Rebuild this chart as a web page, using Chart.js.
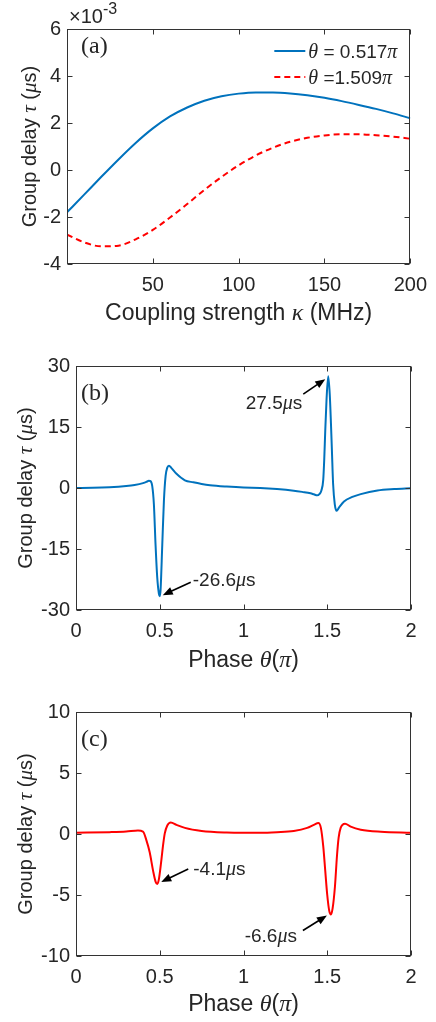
<!DOCTYPE html>
<html><head><meta charset="utf-8">
<script src="https://cdn.jsdelivr.net/npm/chart.js@4.4.1/dist/chart.umd.min.js"></script>
<style>
html,body{margin:0;padding:0;background:#fff;width:436px;height:1022px;overflow:hidden}
.p{position:absolute;left:0;width:436px}
canvas{display:block}
</style></head><body>
<div class="p" style="top:0;height:340px"><canvas id="ca" width="436" height="340"></canvas></div>
<div class="p" style="top:340px;height:340px"><canvas id="cb" width="436" height="340"></canvas></div>
<div class="p" style="top:680px;height:342px"><canvas id="cc" width="436" height="342"></canvas></div>
<script>
// ---------------- DATA ----------------
// Panel (a): group delay (in units of 1e-3 microseconds) vs coupling strength kappa (MHz)
const kappaA = [0,10,20,30,40,50,60,70,80,90,100,110,120,130,140,150,160,170,180,190,200];
const tauA_theta0517 = [-1.8,-1.05,-0.29,0.45,1.15,1.77,2.28,2.66,2.95,3.14,3.25,3.3,3.3,3.26,3.18,3.07,2.93,2.77,2.6,2.41,2.2];
const tauA_theta1509 = [-2.75,-3.08,-3.25,-3.22,-2.95,-2.55,-2.02,-1.45,-0.85,-0.3,0.2,0.62,0.95,1.2,1.37,1.47,1.52,1.52,1.48,1.42,1.33];
const legendA = ["0.517", "1.509"];
const xTicksA = [50,100,150,200];
const yTicksA = [-4,-2,0,2,4,6];

// Panel (b): group delay (microseconds) vs phase theta (units of pi)
const phaseB = [0,0.1,0.2,0.3,0.35,0.4,0.42,0.435,0.445,0.455,0.465,0.475,0.485,0.495,0.5,0.505,0.515,0.525,0.535,0.545,0.555,0.57,0.6,0.65,0.7,0.75,0.8,0.9,1.0,1.1,1.2,1.3,1.35,1.4,1.42,1.44,1.453,1.465,1.476,1.482,1.488,1.496,1.506,1.515,1.522,1.528,1.535,1.545,1.556,1.57,1.6,1.65,1.7,1.8,1.9,2.0];
const tauB   = [0,0.05,0.2,0.5,0.75,1.2,1.5,1.8,1.7,0.5,-4,-14,-22,-26,-26.6,-25,-14,-3,3,5,5.5,4.9,3.5,1.9,1.4,1.0,0.7,0.35,0.1,0,-0.25,-0.65,-0.95,-1.3,-1.55,-1.8,-1.5,-0.6,2,7,14,22,27.5,23,16,9,1,-4,-5.6,-4.8,-3.3,-2.2,-1.5,-0.6,-0.25,-0.05];
const annPhaseB = [1.506, 0.5];
const annTauB   = [27.5, -26.6];

// Panel (c): group delay (microseconds) vs phase theta (units of pi)
const phaseC = [0,0.2,0.3,0.37,0.4,0.42,0.44,0.46,0.475,0.485,0.495,0.51,0.52,0.53,0.545,0.566,0.6,0.65,0.75,0.9,1.0,1.1,1.2,1.3,1.38,1.42,1.447,1.462,1.476,1.488,1.5,1.512,1.522,1.532,1.546,1.558,1.568,1.58,1.606,1.64,1.7,1.82,2.0];
const tauC   = [0.1,0.15,0.2,0.28,0.2,-0.5,-1.5,-3.0,-3.9,-4.1,-3.7,-2.1,-0.9,0.05,0.7,0.95,0.75,0.5,0.25,0.12,0.1,0.1,0.15,0.25,0.5,0.75,0.9,0.5,-1.0,-3,-5,-6.3,-6.6,-6.1,-4.3,-1.8,-0.3,0.5,0.85,0.6,0.35,0.18,0.1];
const annPhaseC = [0.485, 1.522];
const annTauC   = [-4.1, -6.6];

const xTicksBC = [0,0.5,1,1.5,2];
const yTicksB = [-30,-15,0,15,30];
const yTicksC = [-10,-5,0,5,10];

// ---------------- STYLE / HELPERS ----------------
const SANS = "'Liberation Sans', Arial, Helvetica, sans-serif";
const SERIF = "'Liberation Serif', 'Times New Roman', serif";
const TXT = '#262626';
const BLUE = '#0072BD';
const RED = '#FF0000';
const sans = s => `${s}px ${SANS}`;
const ital = s => `italic ${s}px ${SERIF}`;
const serif = s => `${s}px ${SERIF}`;

function rich(ctx, segs, x, y, align, angle){
  ctx.save();
  ctx.translate(x, y);
  if (angle) ctx.rotate(angle);
  ctx.textBaseline = 'alphabetic';
  ctx.textAlign = 'left';
  ctx.fillStyle = TXT;
  let w = 0;
  segs.forEach(s => { ctx.font = s.f; s.w = ctx.measureText(s.t).width; w += s.w; });
  let cx = align === 'center' ? -w/2 : (align === 'right' ? -w : 0);
  segs.forEach(s => { ctx.font = s.f; ctx.fillText(s.t, cx, s.dy || 0); cx += s.w; });
  ctx.restore();
}

function arrow(ctx, x0, y0, x1, y1){
  const a = Math.atan2(y1 - y0, x1 - x0), L = 10, W = 4;
  ctx.save();
  ctx.strokeStyle = '#000'; ctx.fillStyle = '#000'; ctx.lineWidth = 1.6;
  ctx.beginPath(); ctx.moveTo(x0, y0); ctx.lineTo(x1 - (L-2)*Math.cos(a), y1 - (L-2)*Math.sin(a)); ctx.stroke();
  ctx.beginPath(); ctx.moveTo(x1, y1);
  ctx.lineTo(x1 - L*Math.cos(a) + W*Math.sin(a), y1 - L*Math.sin(a) - W*Math.cos(a));
  ctx.lineTo(x1 - L*Math.cos(a) - W*Math.sin(a), y1 - L*Math.sin(a) + W*Math.cos(a));
  ctx.closePath(); ctx.fill();
  ctx.restore();
}

const yTitle = sz => [
  {t:'Group delay ', f:sans(sz)}, {t:'\u03C4', f:ital(sz+1)}, {t:' (', f:sans(sz)},
  {t:'\u03BC', f:ital(sz+1)}, {t:'s)', f:sans(sz)}
];
const phaseTitle = sz => [
  {t:'Phase ', f:sans(sz)}, {t:'\u03B8', f:ital(sz+1)}, {t:'(', f:sans(sz)},
  {t:'\u03C0', f:ital(sz+1)}, {t:')', f:sans(sz)}
];

// frame plugin: box + inward ticks on all four sides + decorations
const framePlugin = {
  id: 'frame',
  afterDatasetsDraw(chart, args, opts){
    const ctx = chart.ctx;
    const {left, right, top, bottom} = chart.chartArea;
    const x = chart.scales.x, y = chart.scales.y;
    ctx.save();
    ctx.strokeStyle = '#333'; ctx.lineWidth = 1;
    const L = Math.round(left) + 0.5, R = Math.round(right) - 0.5, T = Math.round(top) + 0.5, B = Math.round(bottom) - 0.5;
    ctx.strokeRect(L, T, R - L, B - T);
    ctx.beginPath();
    x.ticks.forEach(t => {
      const px = Math.round(x.getPixelForValue(t.value)) + 0.5;
      ctx.moveTo(px, B); ctx.lineTo(px, B - 5);
      ctx.moveTo(px, T); ctx.lineTo(px, T + 5);
    });
    y.ticks.forEach(t => {
      const py = Math.round(y.getPixelForValue(t.value)) + 0.5;
      ctx.moveTo(L, py); ctx.lineTo(L + 5, py);
      ctx.moveTo(R, py); ctx.lineTo(R - 5, py);
    });
    ctx.stroke();
    ctx.restore();
    if (opts.draw) opts.draw(chart, ctx);
  }
};

function makeChart(id, cfg){
  return new Chart(document.getElementById(id), {
    type: 'line',
    data: { datasets: cfg.datasets },
    options: {
      responsive: false, animation: false, events: [],
      layout: { padding: { top: cfg.padTop, right: cfg.padRight, left: 0, bottom: 0 } },
      elements: { point: { radius: 0 }, line: { borderWidth: 2, cubicInterpolationMode: 'monotone' } },
      plugins: { legend: { display: false }, tooltip: { enabled: false }, frame: { draw: cfg.draw } },
      scales: {
        x: {
          type: 'linear', min: cfg.xMin, max: cfg.xMax,
          grid: { display: false, drawTicks: false }, border: { display: false },
          afterBuildTicks: s => { s.ticks = cfg.xTicks.map(v => ({ value: v })); },
          afterFit: s => { s.height = cfg.xH; },
          ticks: { font: { family: SANS, size: 20 }, color: TXT, padding: 9, maxRotation: 0, autoSkip: false, callback: v => String(v) }
        },
        y: {
          type: 'linear', min: cfg.yMin, max: cfg.yMax,
          grid: { display: false, drawTicks: false }, border: { display: false },
          afterBuildTicks: s => { s.ticks = cfg.yTicks.map(v => ({ value: v })); },
          afterFit: s => { s.width = cfg.yW; },
          ticks: { font: { family: SANS, size: 20 }, color: TXT, padding: 6, autoSkip: false, callback: v => String(v) }
        }
      }
    },
    plugins: [framePlugin]
  });
}

const toXY = (xs, ys) => xs.map((v, i) => ({ x: v, y: ys[i] }));

// ---------------- PANEL A ----------------
makeChart('ca', {
  padTop: 29, padRight: 25, xH: 76, yW: 67,
  xMin: 0, xMax: 200, yMin: -4, yMax: 6, xTicks: xTicksA, yTicks: yTicksA,
  datasets: [
    { label: legendA[0], data: toXY(kappaA, tauA_theta0517), borderColor: BLUE, borderWidth: 2 },
    { label: legendA[1], data: toXY(kappaA, tauA_theta1509), borderColor: RED, borderWidth: 2, borderDash: [6, 4] }
  ],
  draw(chart, ctx){
    const a = chart.chartArea;
    rich(ctx, [{t:'\u00D710', f:sans(20)}, {t:'-3', f:sans(16), dy:-9}], 69, 23, 'left');
    rich(ctx, [{t:'(a)', f:serif(24)}], 81, 53, 'left');
    rich(ctx, [{t:'Coupling strength ', f:sans(23)}, {t:'\u03BA', f:ital(24)}, {t:' (MHz)', f:sans(23)}], (a.left + a.right)/2, 320, 'center');
    rich(ctx, yTitle(20), 36, (a.top + a.bottom)/2, 'center', -Math.PI/2);
    chart.data.datasets.forEach((ds, i) => {
      const yy = 51 + i * 26;
      ctx.save();
      ctx.strokeStyle = ds.borderColor; ctx.lineWidth = 2;
      ctx.setLineDash(ds.borderDash || []);
      ctx.beginPath(); ctx.moveTo(a.right - 136, yy); ctx.lineTo(a.right - 105, yy); ctx.stroke();
      ctx.restore();
      rich(ctx, [{t:'\u03B8', f:ital(20)}, {t: i === 0 ? ' = ' + ds.label : ' =' + ds.label, f:sans(19)}, {t:'\u03C0', f:ital(20)}], a.right - 102, yy + 7, 'left');
    });
  }
});

// ---------------- PANEL B ----------------
makeChart('cb', {
  padTop: 26, padRight: 25, xH: 70, yW: 76,
  xMin: 0, xMax: 2, yMin: -30, yMax: 30, xTicks: xTicksBC, yTicks: yTicksB,
  datasets: [
    { label: 'B', data: toXY(phaseB, tauB), borderColor: BLUE, borderWidth: 2 }
  ],
  draw(chart, ctx){
    const a = chart.chartArea, x = chart.scales.x, y = chart.scales.y;
    rich(ctx, [{t:'(b)', f:serif(24)}], 81, 60, 'left');
    rich(ctx, phaseTitle(23), (a.left + a.right)/2, 327, 'center');
    rich(ctx, yTitle(20), 32, (a.top + a.bottom)/2, 'center', -Math.PI/2);
    const px0 = x.getPixelForValue(annPhaseB[0]), py0 = y.getPixelForValue(annTauB[0]);
    arrow(ctx, px0 - 25, py0 + 18, px0 - 3, py0 + 3);
    rich(ctx, [{t:annTauB[0].toFixed(1), f:sans(19)}, {t:'\u03BC', f:ital(20)}, {t:'s', f:sans(19)}], px0 - 26, py0 + 33, 'right');
    const px1 = x.getPixelForValue(annPhaseB[1]), py1 = y.getPixelForValue(annTauB[1]);
    arrow(ctx, px1 + 31, py1 - 14, px1 + 3, py1 - 1);
    rich(ctx, [{t:annTauB[1].toFixed(1), f:sans(19)}, {t:'\u03BC', f:ital(20)}, {t:'s', f:sans(19)}], px1 + 33, py1 - 10, 'left');
  }
});

// ---------------- PANEL C ----------------
makeChart('cc', {
  padTop: 32, padRight: 25, xH: 66, yW: 76,
  xMin: 0, xMax: 2, yMin: -10, yMax: 10, xTicks: xTicksBC, yTicks: yTicksC,
  datasets: [
    { label: 'C', data: toXY(phaseC, tauC), borderColor: RED, borderWidth: 2 }
  ],
  draw(chart, ctx){
    const a = chart.chartArea, x = chart.scales.x, y = chart.scales.y;
    rich(ctx, [{t:'(c)', f:serif(24)}], 81, 66, 'left');
    rich(ctx, phaseTitle(23), (a.left + a.right)/2, 331, 'center');
    rich(ctx, yTitle(20), 32, (a.top + a.bottom)/2, 'center', -Math.PI/2);
    const px0 = x.getPixelForValue(annPhaseC[0]), py0 = y.getPixelForValue(annTauC[0]);
    arrow(ctx, px0 + 31, py0 - 15, px0 + 4, py0 - 2);
    rich(ctx, [{t:annTauC[0].toFixed(1), f:sans(19)}, {t:'\u03BC', f:ital(20)}, {t:'s', f:sans(19)}], px0 + 36, py0 - 9, 'left');
    const px1 = x.getPixelForValue(annPhaseC[1]), py1 = y.getPixelForValue(annTauC[1]);
    arrow(ctx, px1 - 28, py1 + 16, px1 - 4, py1 + 1);
    rich(ctx, [{t:annTauC[1].toFixed(1), f:sans(19)}, {t:'\u03BC', f:ital(20)}, {t:'s', f:sans(19)}], px1 - 34, py1 + 27, 'right');
  }
});
</script>
</body></html>
